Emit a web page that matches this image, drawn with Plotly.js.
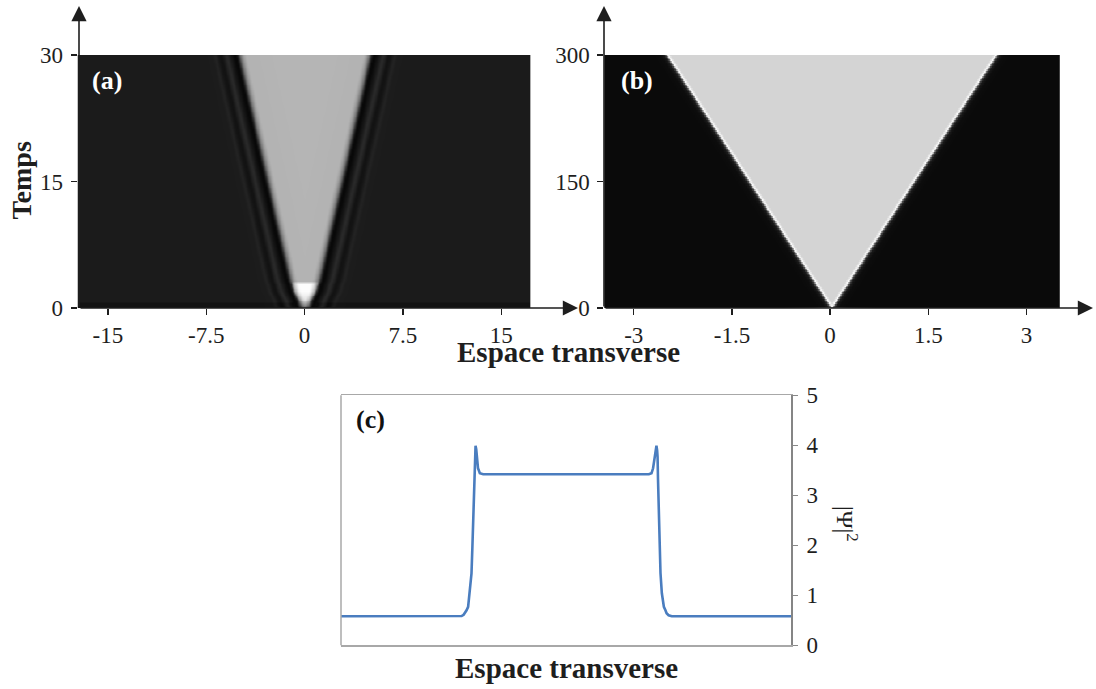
<!DOCTYPE html>
<html>
<head>
<meta charset="utf-8">
<script src="https://cdn.plot.ly/plotly-3.0.1.min.js"></script>
<style>html,body{margin:0;padding:0;background:#fff}#chart{width:1096px;height:689px}</style>
</head>
<body>
<div id="chart"></div>
<script>
// ---------- Panel (a): cone ----------
const coneTimeA = [0, 1, 2, 2.9, 3.2, 30];              // Temps
const coneHalfWidthA = [0.3, 0.5, 0.85, 1.0, 1.1, 5.0];   // half-width of the bright cone
const coneCenterA = 0.0;
// grey level across the cone edge vs. outward distance (for interior level 0.71)
const edgeDistA = [-3, -0.5, -0.3, -0.1, 0.05, 0.2, 0.35, 0.5, 0.7, 0.95, 1.1, 1.35, 1.55, 1.85, 2.1, 3];
const edgeGreyA = [0.71, 0.70, 0.62, 0.45, 0.20, 0.04, 0.03, 0.06, 0.10, 0.17, 0.14, 0.07, 0.08, 0.14, 0.11, 0.105];
// brightness of the cone interior vs time (white spot at the bottom)
const interiorTimeA = [0, 0.7, 1.0, 2.0, 2.9, 3.2, 30];
const interiorGreyA = [0.45, 0.75, 0.9, 1.0, 1.0, 0.71, 0.71];
const bottomStripTimeA = [0, 0.7, 0.8, 30];
const bottomStripShiftA = [-0.03, -0.03, 0, 0];
const xTicksA = [-15, -7.5, 0, 7.5, 15];
const xTickTextA = ['-15', '-7.5', '0', '7.5', '15'];
const yTicksA = [0, 15, 30];

// ---------- Panel (b) ----------
const coneTimeB = [0, 300];
const coneHalfWidthB = [0.0, 2.52];
const coneCenterB = 0.03;
const edgeDistB = [-1, -0.06, -0.035, -0.015, 0, 0.02, 0.05, 0.1, 0.2, 1];
const edgeGreyB = [0.83, 0.83, 0.90, 0.98, 0.72, 0.30, 0.10, 0.05, 0.04, 0.04];
const glowXB = [-0.7, -0.25, 0, 0.25, 0.7];
const glowGreyB = [0.04, 0.18, 0.45, 0.18, 0.04];
const xTicksB = [-3, -1.5, 0, 1.5, 3];
const xTickTextB = ['-3', '-1.5', '0', '1.5', '3'];
const yTicksB = [0, 150, 300];

// ---------- Panel (c): |psi|^2 profile ----------
const profX = [-1, -0.470, -0.464, -0.455, -0.450, -0.442, -0.435, -0.428, -0.420, -0.416, -0.411, -0.408, -0.405, -0.402, -0.399, -0.396, -0.391, -0.383, -0.375, -0.368,
               0.368, 0.375, 0.380, 0.387, 0.394, 0.398, 0.402, 0.405, 0.407, 0.409, 0.412, 0.416, 0.420, 0.426, 0.435, 0.442, 0.447, 0.456, 0.464, 0.470, 1];
const profY = [0.58, 0.58, 0.585, 0.61, 0.64, 0.70, 0.77, 1.04, 1.44, 1.97, 2.64, 3.31, 3.77, 3.99, 3.92, 3.77, 3.54, 3.44, 3.425, 3.42,
               3.42, 3.425, 3.44, 3.54, 3.77, 3.92, 3.99, 3.90, 3.77, 3.31, 2.64, 1.97, 1.44, 1.04, 0.77, 0.70, 0.64, 0.60, 0.585, 0.58, 0.58];
const yTicksC = [0, 1, 2, 3, 4, 5];

function lerp(xs, ys, v) {
  if (v <= xs[0]) return ys[0];
  for (let i = 1; i < xs.length; i++) {
    if (v <= xs[i]) { const f = (v - xs[i-1]) / (xs[i] - xs[i-1]); return ys[i-1] + f * (ys[i] - ys[i-1]); }
  }
  return ys[ys.length - 1];
}
function gridAxis(a, b, n) { const out = []; for (let i = 0; i < n; i++) out.push(a + (b - a) * i / (n - 1)); return out; }

// grid for (a)
const gxA = gridAxis(-17.32, 17.25, 347), gtA = gridAxis(0, 30, 151);
const zA = gtA.map(t => {
  const half = lerp(coneTimeA, coneHalfWidthA, t);
  const inner = lerp(interiorTimeA, interiorGreyA, t);
  const shift = lerp(bottomStripTimeA, bottomStripShiftA, t);
  return gxA.map(x => {
    const d = Math.abs(x - coneCenterA) - half;
    let g = lerp(edgeDistA, edgeGreyA, d);
    if (d < 0) g = g * inner / 0.71;
    if (d > 0.5) g += shift;
    return Math.min(1, g);
  });
});
// grid for (b)
const gxB = gridAxis(-3.45, 3.51, 700), gtB = gridAxis(0, 300, 151);
const zB = gtB.map((t, k) => {
  const half = lerp(coneTimeB, coneHalfWidthB, t);
  return gxB.map(x => {
    const d = Math.abs(x - coneCenterB) - half;
    let g = lerp(edgeDistB, edgeGreyB, d);
    if (k === 0) g = Math.max(g, lerp(glowXB, glowGreyB, x));
    return g;
  });
});

const W = 1096, H = 689;
const px = v => v / W, py = v => 1 - v / H;
const grey = [[0, '#000000'], [1, '#ffffff']];
const FONT = 'Liberation Serif';
const ink = '#1e1e1e';

const traces = [
  {type: 'heatmap', x: gxA, y: gtA, z: zA, zmin: 0, zmax: 1, colorscale: grey, showscale: false, zsmooth: 'best', xaxis: 'x', yaxis: 'y', hoverinfo: 'skip'},
  {type: 'heatmap', x: gxB, y: gtB, z: zB, zmin: 0, zmax: 1, colorscale: grey, showscale: false, zsmooth: false, xaxis: 'x2', yaxis: 'y2', hoverinfo: 'skip'},
  {type: 'scatter', mode: 'lines', x: profX, y: profY, line: {color: '#4a7dbf', width: 2.6, shape: 'linear'}, xaxis: 'x3', yaxis: 'y3', hoverinfo: 'skip'}
];

const tickAx = {ticks: 'outside', ticklen: 6, tickwidth: 1.3, tickcolor: ink, showgrid: false, zeroline: false, showline: false, fixedrange: true,
  tickfont: {family: FONT, size: 23, color: ink}};

function arrow(hx, hy, tx, ty) {
  return {x: px(hx), y: py(hy), xref: 'paper', yref: 'paper', ax: tx - hx, ay: ty - hy, axref: 'pixel', ayref: 'pixel',
    text: '', showarrow: true, arrowhead: 2, arrowsize: 1.9, arrowwidth: 1.6, arrowcolor: ink, standoff: 0, startstandoff: 0};
}
function label(x, y, text, size, color, angle) {
  return {x: px(x), y: py(y), xref: 'paper', yref: 'paper', text: text, showarrow: false, xanchor: 'center', yanchor: 'middle',
    textangle: angle || 0, font: {family: FONT, size: size, color: color}};
}

const layout = {
  width: W, height: H, margin: {l: 0, r: 0, t: 0, b: 0}, paper_bgcolor: '#ffffff', plot_bgcolor: 'rgba(0,0,0,0)', showlegend: false,
  font: {family: FONT, size: 23, color: ink},
  xaxis: Object.assign({}, tickAx, {domain: [px(77.5), px(530.7)], range: [-17.32, 17.25], anchor: 'y', tickmode: 'array', tickvals: xTicksA, ticktext: xTickTextA}),
  yaxis: Object.assign({}, tickAx, {domain: [py(308), py(55)], range: [0, 30], anchor: 'x', tickmode: 'array', tickvals: yTicksA, ticklabelstandoff: 3}),
  xaxis2: Object.assign({}, tickAx, {domain: [px(604.3), px(1059.8)], range: [-3.45, 3.51], anchor: 'y2', tickmode: 'array', tickvals: xTicksB, ticktext: xTickTextB}),
  yaxis2: Object.assign({}, tickAx, {domain: [py(308), py(55)], range: [0, 300], anchor: 'x2', tickmode: 'array', tickvals: yTicksB, ticklabelstandoff: 3}),
  xaxis3: {domain: [px(341), px(791)], range: [-1, 1], anchor: 'y3', showticklabels: false, ticks: '', showgrid: false, zeroline: false,
    showline: true, mirror: true, linecolor: '#a8a8a8', linewidth: 1.5, fixedrange: true},
  yaxis3: {domain: [py(645.3), py(395.3)], range: [0, 5], anchor: 'x3', side: 'right', tickmode: 'array', tickvals: yTicksC,
    ticks: 'outside', ticklen: 5, tickwidth: 1.5, tickcolor: '#888888', showgrid: false, zeroline: false, showline: true,
    linecolor: '#858585', linewidth: 2, fixedrange: true, ticklabelstandoff: 4, tickfont: {family: FONT, size: 23, color: ink}},
  shapes: [
    {type: 'line', xref: 'paper', yref: 'paper', x0: px(341), x1: px(341), y0: py(645.3), y1: py(395.3), line: {color: '#a8a8a8', width: 1.5}}
  ],
  annotations: [
    arrow(79, 6, 79, 308),
    arrow(578, 308, 79, 308),
    arrow(604, 6, 604, 308),
    arrow(1093, 308, 604, 308),
    label(106.7, 81, '<b>(a)</b>', 26, '#ffffff'),
    label(636.5, 81, '<b>(b)</b>', 26, '#ffffff'),
    label(370, 420, '<b>(c)</b>', 26, '#111111'),
    label(21, 180.5, '<b>Temps</b>', 28, ink, -90),
    label(568, 352, '<b>Espace transverse</b>', 29, ink),
    label(566, 668, '<b>Espace transverse</b>', 29, ink),
    label(847, 524, '|Ψ|<sup>2</sup>', 24, ink, 90)
  ]
};

Plotly.newPlot('chart', traces, layout, {staticPlot: true, displayModeBar: false});
</script>
</body>
</html>
